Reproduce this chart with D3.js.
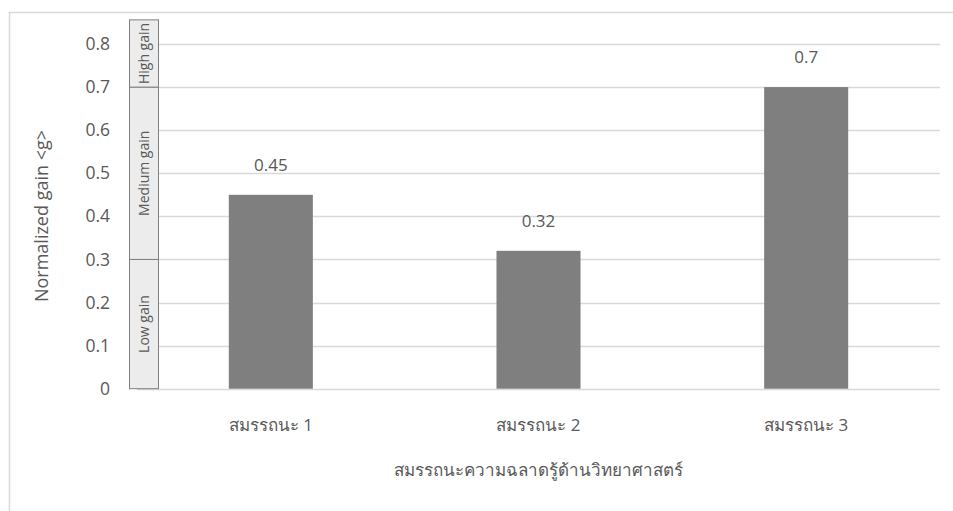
<!DOCTYPE html>
<html>
<head>
<meta charset="utf-8">
<script src="https://cdn.jsdelivr.net/npm/d3@7"></script>
<style>
  html, body { margin: 0; padding: 0; background: #fff; }
  svg { display: block; }
  text { font-family: "Open Sans", "Noto Sans", "DejaVu Sans", sans-serif; fill: #595959; }
</style>
</head>
<body>
<svg id="chart" width="953" height="511"></svg>
<script>
// Normalized gain per competency
const categories = ["สมรรถนะ 1", "สมรรถนะ 2", "สมรรถนะ 3"];
const gains = [0.45, 0.32, 0.7];
const yTicks = [0, 0.1, 0.2, 0.3, 0.4, 0.5, 0.6, 0.7, 0.8];
const gainBands = [
  { label: "Low gain", from: 0, to: 0.3 },
  { label: "Medium gain", from: 0.3, to: 0.7 },
  { label: "High gain", from: 0.7, to: 0.856 }
];
const xTitle = "สมรรถนะความฉลาดรู้ด้านวิทยาศาสตร์";
const yTitle = "Normalized gain <g>";

const svg = d3.select("#chart");

// outer chart frame (extends past the visible area on the right and bottom)
svg.append("rect")
  .attr("x", 9.5).attr("y", 12.5)
  .attr("width", 960).attr("height", 520)
  .attr("fill", "none").attr("stroke", "#d9d9d9").attr("stroke-width", 1.5);

const y = d3.scaleLinear().domain([0, 0.8]).range([388.7, 44]);
const x = d3.scaleBand().domain(categories)
  .range([137, 940]).paddingInner(0.686).paddingOuter(0.343);

// horizontal gridlines
svg.append("g").selectAll("line").data(yTicks).join("line")
  .attr("x1", 137).attr("x2", 940)
  .attr("y1", d => Math.round(y(d)) + 0.5).attr("y2", d => Math.round(y(d)) + 0.5)
  .attr("stroke", "#d9d9d9").attr("stroke-width", 1.3);

// y tick labels
svg.append("g").selectAll("text").data(yTicks).join("text")
  .attr("x", 110).attr("y", d => y(d))
  .attr("dy", "0.35em").attr("text-anchor", "end")
  .attr("font-size", 17.5)
  .text(d => d === 0 ? "0" : d3.format(".1f")(d));

// gain classification strip
const stripX = 129, stripW = 29;
const strip = svg.append("g");
strip.selectAll("rect").data(gainBands).join("rect")
  .attr("x", stripX + 0.5).attr("width", stripW)
  .attr("y", d => y(d.to)).attr("height", d => y(d.from) - y(d.to))
  .attr("fill", "#ececec").attr("stroke", "#7f7f7f").attr("stroke-width", 1);
strip.selectAll("text").data(gainBands).join("text")
  .attr("transform", d => `translate(${stripX + stripW / 2 + 1},${(y(d.from) + y(d.to)) / 2}) rotate(-90)`)
  .attr("text-anchor", "middle").attr("dy", "0.35em")
  .attr("font-size", 14)
  .text(d => d.label);

// bars
svg.append("g").selectAll("rect").data(gains).join("rect")
  .attr("x", (d, i) => x(categories[i]))
  .attr("width", x.bandwidth())
  .attr("y", d => y(d))
  .attr("height", d => y(0) - y(d))
  .attr("fill", "#7f7f7f");

// value labels
svg.append("g").selectAll("text").data(gains).join("text")
  .attr("x", (d, i) => x(categories[i]) + x.bandwidth() / 2)
  .attr("y", d => y(d) - 24)
  .attr("text-anchor", "middle")
  .attr("font-size", 17)
  .attr("fill", "#404040")
  .text(d => String(d));

// category labels
svg.append("g").selectAll("text").data(categories).join("text")
  .attr("x", d => x(d) + x.bandwidth() / 2)
  .attr("y", 431)
  .attr("text-anchor", "middle")
  .attr("font-size", 17)
  .text(d => d);

// axis titles
svg.append("text")
  .attr("x", 538).attr("y", 476)
  .attr("text-anchor", "middle").attr("font-size", 17)
  .text(xTitle);

svg.append("text")
  .attr("transform", `translate(42,216) rotate(-90)`)
  .attr("text-anchor", "middle").attr("dy", "0.35em")
  .attr("font-size", 18)
  .text(yTitle);
</script>
</body>
</html>
